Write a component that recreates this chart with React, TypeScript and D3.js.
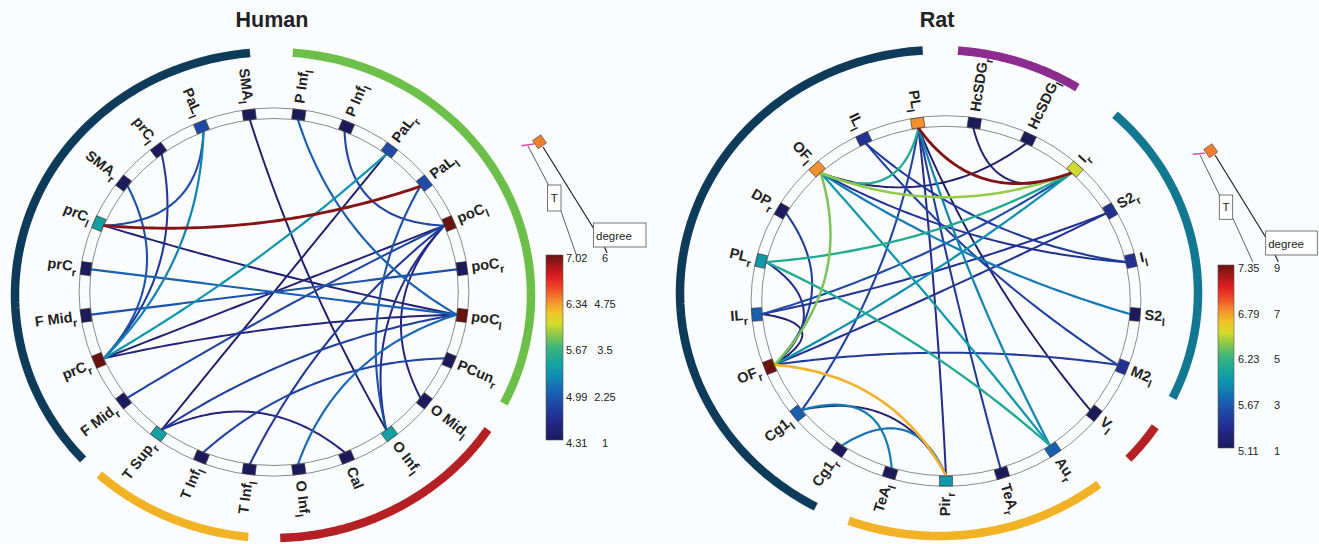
import React from 'react';
import * as d3 from 'd3';

const W = 1319;
const H = 544;

// ---------- colour map (jet-like, as printed) ----------
const PALETTE_POS = [0, 0.1, 0.2, 0.28, 0.36, 0.42, 0.5, 0.57, 0.63, 0.69, 0.75, 0.82, 0.88, 0.94, 1];
const PALETTE_COL = ['#1d1a5c', '#23288a', '#1f4aa6', '#166cb4', '#0f94b0', '#16a69c', '#3fb47c', '#8cc84a', '#d4dc2c', '#f2c22a', '#f49030', '#ee4a28', '#e01e24', '#a8181a', '#6a1210'];

// ---------- Human ----------
const humanBase = ['P Inf', 'P Inf', 'PaL', 'PaL', 'poC', 'poC', 'poC', 'PCun', 'O Mid', 'O Inf', 'Cal', 'O Inf', 'T Inf', 'T Inf', 'T Sup', 'F Mid', 'prC', 'F Mid', 'prC', 'prC', 'SMA', 'prC', 'PaL', 'SMA'];
const humanSub = ['l', 'l', 'r', 'l', 'l', 'r', 'l', 'r', 'l', 'l', '', 'l', 'l', 'l', 'r', 'r', 'r', 'r', 'r', 'l', 'r', 'l', 'l', 'l'];
const humanDegree = [1, 1, 2, 2, 6, 1, 6, 1, 1, 3, 1, 1, 1, 1, 3, 1, 6, 1, 1, 3, 1, 1, 2, 1];
const humanEdgeFrom = [19, 19, 19, 22, 21, 20, 16, 16, 16, 18, 17, 15, 14, 14, 14, 1, 0, 23, 3, 8, 9, 7, 12, 11];
const humanEdgeTo = [3, 22, 6, 16, 16, 16, 2, 4, 6, 6, 5, 4, 2, 10, 6, 4, 6, 9, 9, 4, 4, 13, 4, 6];
const humanEdgeT = [6.95, 4.85, 4.45, 5.2, 4.7, 4.9, 5.3, 4.45, 4.5, 5.0, 4.9, 4.8, 4.4, 4.5, 4.75, 4.8, 5.0, 4.4, 4.9, 4.5, 4.6, 4.8, 4.7, 5.05];
const humanArcStart = [227.4, 4.4, 123.6, 185.5];
const humanArcEnd = [354.9, 116.5, 178.4, 222.3];
const humanArcColor = ['#0e3b5a', '#6cbf48', '#b52025', '#f1b226'];
const humanTTicks = ['7.02', '6.34', '5.67', '4.99', '4.31'];
const humanDegTicks = ['6', '4.75', '3.5', '2.25', '1'];

// ---------- Rat ----------
const ratBase = ['HcSDG', 'HcSDG', 'I', 'S2', 'I', 'S2', 'M2', 'V', 'Au', 'TeA', 'Pir', 'TeA', 'Cg1', 'Cg1', 'OF', 'IL', 'PL', 'DP', 'OF', 'IL', 'PL'];
const ratSub = ['r', 'l', 'r', 'r', 'l', 'l', 'l', 'l', 'r', 'r', 'r', 'l', 'r', 'l', 'r', 'r', 'r', 'r', 'l', 'l', 'l'];
const ratDegree = [1, 1, 6, 2, 2, 1, 2, 1, 3, 1, 4, 1, 1, 3, 9, 3, 4, 1, 7, 2, 7];
const ratEdgeFrom = [20, 20, 20, 20, 20, 20, 20, 0, 18, 16, 14, 15, 18, 18, 18, 18, 18, 14, 14, 14, 14, 14, 14, 15, 19, 19, 16, 13, 13, 12];
const ratEdgeTo = [2, 18, 13, 7, 8, 10, 9, 2, 2, 2, 2, 2, 14, 1, 8, 5, 4, 3, 10, 17, 16, 6, 15, 3, 4, 6, 8, 11, 10, 10];
const ratEdgeT = [7.3, 6.1, 5.5, 5.15, 5.85, 5.35, 5.45, 5.2, 6.4, 6.1, 5.9, 5.55, 6.35, 5.2, 5.95, 5.8, 5.4, 5.4, 6.7, 5.45, 5.35, 5.45, 5.2, 5.4, 5.45, 5.5, 6.1, 5.8, 5.2, 5.75];
const ratArcStart = [208.4, 4.2, 42.8, 123.4, 141.9];
const ratArcEnd = [356.4, 32.3, 115.6, 133, 200.4];
const ratArcColor = ['#0e3b5a', '#8c2c8e', '#127892', '#b52025', '#f1b226'];
const ratTTicks = ['7.35', '6.79', '6.23', '5.67', '5.11'];
const ratDegTicks = ['9', '7', '5', '3', '1'];

const FONT = 'Liberation Sans, Arial, Helvetica, sans-serif';
const BEND = 0.62;

const jet = d3
  .scaleLinear<string>()
  .domain(PALETTE_POS)
  .range(PALETTE_COL)
  .interpolate(d3.interpolateRgb)
  .clamp(true);

type Seg = [number, number, number, number];

type PanelProps = {
  id: string;
  title: string;
  titleX: number;
  base: string[];
  sub: string[];
  degree: number[];
  degMin: number;
  degMax: number;
  from: number[];
  to: number[];
  T: number[];
  tMin: number;
  tMax: number;
  cx: number;
  cy: number;
  rx: number;
  ry: number;
  acx: number;
  acy: number;
  arx: number;
  ary: number;
  arcStart: number[];
  arcEnd: number[];
  arcColor: string[];
  bar: { x: number; y: number; w: number; h: number; labX: number; degX: number };
  tTicks: string[];
  degTicks: string[];
  icon: {
    sq: [number, number];
    mag: Seg;
    l1: Seg;
    tBox: Seg;
    l2: Seg;
    l3: Seg;
    dBox: Seg;
    l4: Seg;
  };
};

// quadratic curve between two nodes on the unit circle, bent toward the centre
function chordCurve(a: number, b: number): [number, number][] {
  const u: [number, number] = [Math.sin(a), -Math.cos(a)];
  const v: [number, number] = [Math.sin(b), -Math.cos(b)];
  const c: [number, number] = [((u[0] + v[0]) / 2) * BEND, ((u[1] + v[1]) / 2) * BEND];
  const N = 60;
  return d3.range(N + 1).map((i) => {
    const t = i / N;
    const s = 1 - t;
    return [s * s * u[0] + 2 * s * t * c[0] + t * t * v[0], s * s * u[1] + 2 * s * t * c[1] + t * t * v[1]] as [number, number];
  });
}

function Panel(p: PanelProps) {
  const n = p.base.length;
  const angle = d3.scaleLinear().domain([0, n]).range([0, 2 * Math.PI]);
  const th = (k: number) => angle(k + 0.5);
  const ringW = 5.3;
  const xN = d3.scaleLinear().domain([-1, 1]).range([p.cx - p.rx, p.cx + p.rx]);
  const yN = d3.scaleLinear().domain([-1, 1]).range([p.cy - p.ry, p.cy + p.ry]);
  const xE = d3.scaleLinear().domain([-1, 1]).range([p.cx - (p.rx - ringW), p.cx + (p.rx - ringW)]);
  const yE = d3.scaleLinear().domain([-1, 1]).range([p.cy - (p.ry - ringW), p.cy + (p.ry - ringW)]);
  const labOff = 9.5;
  const xL = d3.scaleLinear().domain([-1, 1]).range([p.cx - (p.rx + labOff), p.cx + (p.rx + labOff)]);
  const yL = d3.scaleLinear().domain([-1, 1]).range([p.cy - (p.ry + labOff + 2), p.cy + (p.ry + labOff + 2)]);
  const degFrac = d3.scaleLinear().domain([p.degMin, p.degMax]).range([0, 1]);
  const tFrac = d3.scaleLinear().domain([p.tMin, p.tMax]).range([0, 1]).clamp(true);
  const widthScale = d3.scaleLinear().domain([p.tMin, p.tMax]).range([1.9, 2.9]);
  const edgeLine = d3
    .line<[number, number]>()
    .x((d) => xE(d[0]))
    .y((d) => yE(d[1]));

  const edges = p.from
    .map((f, i) => ({ f, t: p.to[i], v: p.T[i] }))
    .sort((a, b) => a.v - b.v);

  const arcLine = d3
    .line<number>()
    .x((deg) => p.acx + p.arx * Math.sin((deg * Math.PI) / 180))
    .y((deg) => p.acy - p.ary * Math.cos((deg * Math.PI) / 180));

  const barY = d3.scaleLinear().domain([0, p.tTicks.length - 1]).range([p.bar.y, p.bar.y + p.bar.h]);
  const gradId = `grad-${p.id}`;
  const ic = p.icon;

  return (
    <g>
      <defs>
        <linearGradient id={gradId} x1="0" y1="1" x2="0" y2="0">
          {PALETTE_POS.map((pos, i) => (
            <stop key={i} offset={`${pos * 100}%`} stopColor={PALETTE_COL[i]} />
          ))}
        </linearGradient>
      </defs>
      <text x={p.titleX} y={27} textAnchor="middle" fontFamily={FONT} fontWeight="bold" fontSize={21.5} fill="#222">
        {p.title}
      </text>

      {p.arcStart.map((s, i) => (
        <path
          key={`arc${i}`}
          d={arcLine(d3.range(0, 101).map((j) => s + ((p.arcEnd[i] - s) * j) / 100)) || ''}
          fill="none"
          stroke={p.arcColor[i]}
          strokeWidth={8.5}
        />
      ))}

      <ellipse cx={p.cx} cy={p.cy} rx={p.rx + ringW} ry={p.ry + ringW} fill="none" stroke="#8a8a8a" strokeWidth={1} />
      <ellipse cx={p.cx} cy={p.cy} rx={p.rx - ringW} ry={p.ry - ringW} fill="none" stroke="#8a8a8a" strokeWidth={1} />

      {edges.map((e, i) => (
        <path
          key={`e${i}`}
          d={edgeLine(chordCurve(th(e.f), th(e.t))) || ''}
          fill="none"
          stroke={jet(tFrac(e.v))}
          strokeWidth={widthScale(e.v)}
          strokeLinecap="round"
        />
      ))}

      {p.base.map((b, k) => {
        const a = th(k);
        const x = xN(Math.sin(a));
        const y = yN(-Math.cos(a));
        const deg = (a * 180) / Math.PI;
        return (
          <rect
            key={`n${k}`}
            x={-6.5}
            y={-5}
            width={13}
            height={10}
            transform={`translate(${x},${y}) rotate(${deg})`}
            fill={jet(degFrac(p.degree[k]))}
            stroke="#333"
            strokeWidth={0.6}
          />
        );
      })}

      {p.base.map((b, k) => {
        const a = th(k);
        const deg = (a * 180) / Math.PI;
        const right = deg < 179.9;
        const x = xL(Math.sin(a));
        const y = yL(-Math.cos(a));
        const rot = right ? deg - 90 : deg - 270;
        return (
          <text
            key={`l${k}`}
            transform={`translate(${x},${y}) rotate(${rot})`}
            textAnchor={right ? 'start' : 'end'}
            fontFamily={FONT}
            fontWeight="bold"
            fontSize={14.5}
            fill="#222"
          >
            <tspan dy="0.3em">{b}</tspan>
            {p.sub[k] ? (
              <tspan dy={5} fontSize={11}>
                {p.sub[k]}
              </tspan>
            ) : null}
          </text>
        );
      })}

      <rect x={p.bar.x} y={p.bar.y} width={p.bar.w} height={p.bar.h} fill={`url(#${gradId})`} stroke="#555" strokeWidth={0.6} />
      {p.tTicks.map((t, i) => (
        <text key={`tt${i}`} x={p.bar.labX} y={barY(i) + 3} dy="0.35em" fontFamily={FONT} fontSize={11} fill="#222">
          {t}
        </text>
      ))}
      {p.degTicks.map((t, i) => (
        <text key={`dt${i}`} x={p.bar.degX} y={barY(i) + 3} dy="0.35em" textAnchor="middle" fontFamily={FONT} fontSize={11} fill="#222">
          {t}
        </text>
      ))}

      <line x1={ic.mag[0]} y1={ic.mag[1]} x2={ic.mag[2]} y2={ic.mag[3]} stroke="#e04aa8" strokeWidth={1.6} />
      <line x1={ic.l1[0]} y1={ic.l1[1]} x2={ic.l1[2]} y2={ic.l1[3]} stroke="#333" strokeWidth={0.8} />
      <line x1={ic.l2[0]} y1={ic.l2[1]} x2={ic.l2[2]} y2={ic.l2[3]} stroke="#333" strokeWidth={0.8} />
      <line x1={ic.l3[0]} y1={ic.l3[1]} x2={ic.l3[2]} y2={ic.l3[3]} stroke="#222" strokeWidth={1.2} />
      <line x1={ic.l4[0]} y1={ic.l4[1]} x2={ic.l4[2]} y2={ic.l4[3]} stroke="#222" strokeWidth={1.2} />
      <rect x={-5} y={-5} width={10} height={10} transform={`translate(${ic.sq[0]},${ic.sq[1]}) rotate(-35)`} fill="#f07f2e" stroke="#444" strokeWidth={0.6} />
      <rect x={ic.tBox[0]} y={ic.tBox[1]} width={ic.tBox[2]} height={ic.tBox[3]} fill="#fff" stroke="#555" strokeWidth={0.8} />
      <text x={ic.tBox[0] + ic.tBox[2] / 2} y={ic.tBox[1] + ic.tBox[3] / 2} dy="0.35em" textAnchor="middle" fontFamily={FONT} fontSize={11.5} fill="#222">
        T
      </text>
      <rect x={ic.dBox[0]} y={ic.dBox[1]} width={ic.dBox[2]} height={ic.dBox[3]} fill="#fff" stroke="#555" strokeWidth={0.8} />
      <text x={ic.dBox[0] + 2.5} y={ic.dBox[1] + ic.dBox[3] / 2 + 1} dy="0.35em" fontFamily={FONT} fontSize={11.5} fill="#222">
        degree
      </text>
    </g>
  );
}

export default function App() {
  return (
    <svg width={W} height={H} style={{ position: 'absolute', left: 0, top: 0 }} xmlns="http://www.w3.org/2000/svg">
      <rect x={0} y={0} width={W} height={H} fill="#fbfcfe" />
      <Panel
        id="human"
        title="Human"
        titleX={272}
        base={humanBase}
        sub={humanSub}
        degree={humanDegree}
        degMin={1}
        degMax={6}
        from={humanEdgeFrom}
        to={humanEdgeTo}
        T={humanEdgeT}
        tMin={4.31}
        tMax={7.02}
        cx={274}
        cy={292}
        rx={189.6}
        ry={178.8}
        acx={273}
        acy={295}
        arx={258}
        ary={243}
        arcStart={humanArcStart}
        arcEnd={humanArcEnd}
        arcColor={humanArcColor}
        bar={{ x: 546, y: 255, w: 17, h: 185, labX: 566, degX: 605 }}
        tTicks={humanTTicks}
        degTicks={humanDegTicks}
        icon={{
          sq: [539.5, 141.8],
          mag: [521.5, 145.8, 534, 144],
          l1: [528, 146, 548.5, 185],
          tBox: [547.5, 185, 13.5, 26],
          l2: [561, 211, 577, 257],
          l3: [543, 147, 594, 229],
          dBox: [593.5, 223, 52.5, 24],
          l4: [604.5, 247, 607, 253],
        }}
      />
      <Panel
        id="rat"
        title="Rat"
        titleX={937}
        base={ratBase}
        sub={ratSub}
        degree={ratDegree}
        degMin={1}
        degMax={9}
        from={ratEdgeFrom}
        to={ratEdgeTo}
        T={ratEdgeT}
        tMin={5.11}
        tMax={7.35}
        cx={946}
        cy={301}
        rx={189.6}
        ry={180}
        acx={939}
        acy={293}
        arx={259}
        ary={243}
        arcStart={ratArcStart}
        arcEnd={ratArcEnd}
        arcColor={ratArcColor}
        bar={{ x: 1218, y: 265, w: 16, h: 183, labX: 1238, degX: 1277 }}
        tTicks={ratTTicks}
        degTicks={ratDegTicks}
        icon={{
          sq: [1210.7, 150.7],
          mag: [1192.7, 154.3, 1205, 153.3],
          l1: [1200, 155, 1219.5, 195],
          tBox: [1219.3, 195, 13.4, 24.3],
          l2: [1233, 218.5, 1252.7, 261.7],
          l3: [1215, 155, 1265.7, 237.3],
          dBox: [1265.7, 231, 51.6, 24],
          l4: [1275, 255, 1278.3, 261.7],
        }}
      />
    </svg>
  );
}
